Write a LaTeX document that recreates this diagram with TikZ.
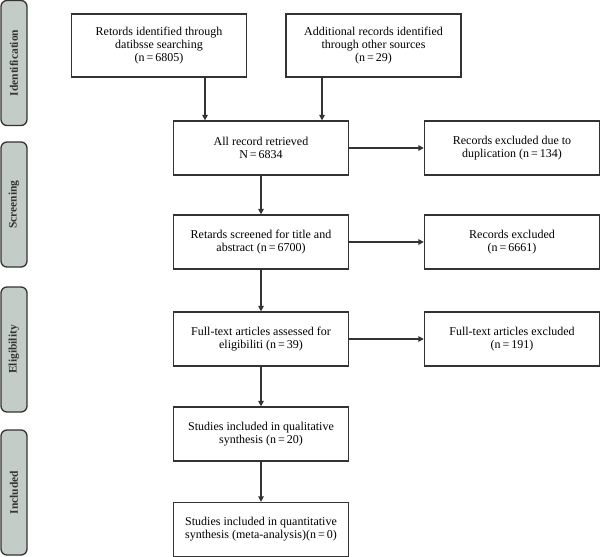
\documentclass[tikz,border=0pt]{standalone}
\usepackage{fontspec}
\setmainfont{Liberation Serif}
\usetikzlibrary{arrows.meta}
\definecolor{barfill}{HTML}{C4CCC8}
\definecolor{edge}{HTML}{333333}
\begin{document}
\begin{tikzpicture}[x=1pt,y=-1pt,
  box/.style={draw=edge,line width=1.3pt,rectangle,align=center,inner sep=2pt,
    font=\fontsize{12}{13}\selectfont,minimum width=175pt},
  tall/.style={box,minimum height=63pt},
  short/.style={box,minimum height=54pt},
  bar/.style={draw=edge,fill=barfill,line width=1.3pt,rounded corners=6pt,
    minimum width=26pt,minimum height=125pt,inner sep=0pt},
  barlabel/.style={rotate=90,font=\fontsize{11.5}{12}\selectfont\bfseries,text=edge},
  arr/.style={draw=edge,line width=1.4pt,-{Triangle[length=5.5pt,width=5.5pt]}}]
\useasboundingbox (0,0) rectangle (600,557);
% side bars
\node[bar] (b1) at (14,63) {};
\node[barlabel] (l1) at (b1.center) {Identification};
\node[bar] (b2) at (14,204.5) {};
\node[barlabel] (l2) at (b2.center) {Screening};
\node[bar] (b3) at (14,349.5) {};
\node[barlabel] (l3) at (b3.center) {Eligibility};
\node[bar] (b4) at (14,492.5) {};
\node[barlabel] (l4) at (b4.center) {Included};
% boxes
\node[tall] (id1) at (159,45.5) {Retords identified through\\datibsse searching\\(n\,=\,6805)};
\node[tall] (id2) at (373.5,45.5) {Additional records identified\\through other sources\\(n\,=\,29)};
\node[short] (all) at (261,148) {All record retrieved\\N\,=\,6834};
\node[short] (dup) at (512,148) {Records excluded due to\\duplication (n\,=\,134)};
\node[short] (scr) at (261,242) {Retards screened for title and\\abstract (n\,=\,6700)};
\node[short] (exc) at (512,242) {Records excluded\\(n\,=\,6661)};
\node[short] (ft) at (261,339) {Full-text articles assessed for\\eligibiliti (n\,=\,39)};
\node[short] (ftx) at (512,339) {Full-text articles excluded\\(n\,=\,191)};
\node[short] (qual) at (261,434) {Studies included in qualitative\\synthesis (n\,=\,20)};
\node[short] (quan) at (261,529.5) {Studies included in quantitative\\synthesis (meta-analysis)(n\,=\,0)};
% connectors
\draw[arr] ([xshift=46pt]id1.south) -- ([xshift=46pt]id1.south |- all.north);
\draw[arr] ([xshift=-51.5pt]id2.south) -- ([xshift=-51.5pt]id2.south |- all.north);
\draw[arr] (all) -- (dup);
\draw[arr] (all) -- (scr);
\draw[arr] (scr) -- (exc);
\draw[arr] (scr) -- (ft);
\draw[arr] (ft) -- (ftx);
\draw[arr] (ft) -- (qual);
\draw[arr] (qual) -- (quan);
\end{tikzpicture}
\end{document}
